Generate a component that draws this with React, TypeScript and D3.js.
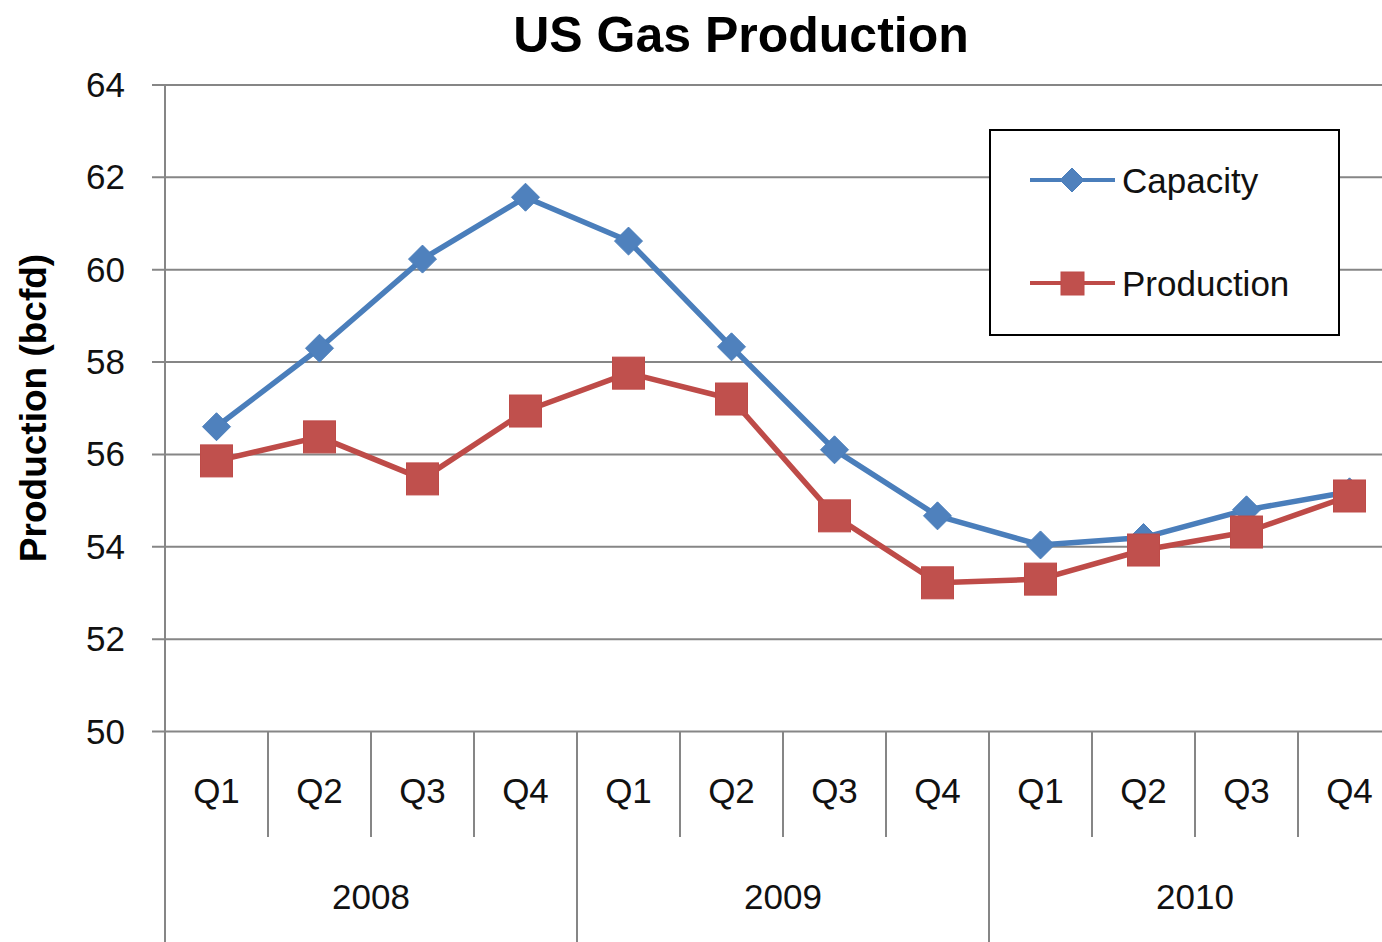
import React from "react";
import * as d3 from "d3";

const quarters = ["Q1", "Q2", "Q3", "Q4", "Q1", "Q2", "Q3", "Q4", "Q1", "Q2", "Q3", "Q4"];
const years = ["2008", "2009", "2010"];
const capacity = [56.6, 58.3, 60.23, 61.57, 60.62, 58.33, 56.1, 54.67, 54.04, 54.2, 54.8, 55.19];
const production = [55.86, 56.38, 55.47, 56.94, 57.76, 57.2, 54.67, 53.22, 53.3, 53.93, 54.32, 55.1];
const yTicks = [50, 52, 54, 56, 58, 60, 62, 64];

const W = 1382;
const H = 942;
const plotLeft = 165;
const plotRight = 165 + 12 * 103;
const plotTop = 85;
const plotBottom = 731.5;

const blueLine = "#4a7ebb";
const blueFill = "#4f81bd";
const redLine = "#be4b48";
const redFill = "#c0504d";
const grid = "#868686";
const font = "'Liberation Sans', Arial, sans-serif";

export default function App() {
  const idx = quarters.map((_, i) => String(i));
  const x = d3.scaleBand<string>().domain(idx).range([plotLeft, plotRight]);
  const y = d3.scaleLinear().domain([50, 64]).range([plotBottom, plotTop]);
  const cx = (i: number) => (x(String(i)) as number) + x.bandwidth() / 2;
  const line = d3
    .line<number>()
    .x((_, i) => cx(i))
    .y((d) => y(d));
  const bw = x.bandwidth();
  const diamond = (px: number, py: number, r: number) =>
    `M${px},${py - r}L${px + r},${py}L${px},${py + r}L${px - r},${py}Z`;

  return (
    <svg
      width={W}
      height={H}
      style={{ position: "absolute", left: 0, top: 0, background: "#fff", overflow: "hidden" }}
      fontFamily={font}
    >
      <rect x={0} y={0} width={W} height={H} fill="#fff" />
      {/* title */}
      <text x={741} y={52} textAnchor="middle" fontSize={50} fontWeight="bold" fill="#000">
        US Gas Production
      </text>
      {/* y axis title */}
      <text
        transform={`translate(46, ${408}) rotate(-90)`}
        textAnchor="middle"
        fontSize={37}
        fontWeight="bold"
        fill="#000"
      >
        Production (bcfd)
      </text>
      {/* gridlines and ticks */}
      {yTicks.map((t) => (
        <g key={t}>
          <line x1={152} x2={plotRight} y1={y(t)} y2={y(t)} stroke={grid} strokeWidth={2} />
          <text x={125} y={y(t) + 12} textAnchor="end" fontSize={35} fill="#111">
            {t}
          </text>
        </g>
      ))}
      {/* y axis line */}
      <line x1={plotLeft} x2={plotLeft} y1={plotTop} y2={H} stroke={grid} strokeWidth={2} />
      {/* category separators */}
      {d3.range(1, 13).map((k) => {
        const xx = plotLeft + k * bw;
        const isYear = k % 4 === 0;
        return (
          <line
            key={k}
            x1={xx}
            x2={xx}
            y1={plotBottom}
            y2={isYear ? H : 837}
            stroke={grid}
            strokeWidth={2}
          />
        );
      })}
      {quarters.map((q, i) => (
        <text key={i} x={cx(i)} y={803} textAnchor="middle" fontSize={35} fill="#111">
          {q}
        </text>
      ))}
      {years.map((yr, j) => (
        <text
          key={yr}
          x={plotLeft + (j * 4 + 2) * bw}
          y={909}
          textAnchor="middle"
          fontSize={35}
          fill="#111"
        >
          {yr}
        </text>
      ))}
      {/* series */}
      <path d={line(capacity) || ""} fill="none" stroke={blueLine} strokeWidth={5.5} strokeLinejoin="round" />
      {capacity.map((v, i) => (
        <path key={i} d={diamond(cx(i), y(v), 14)} fill={blueFill} stroke={blueLine} strokeWidth={1} />
      ))}
      <path d={line(production) || ""} fill="none" stroke={redLine} strokeWidth={5.5} strokeLinejoin="round" />
      {production.map((v, i) => (
        <rect
          key={i}
          x={cx(i) - 16}
          y={y(v) - 16}
          width={32}
          height={32}
          fill={redFill}
          stroke={redLine}
          strokeWidth={1}
        />
      ))}
      {/* legend */}
      <rect x={990} y={130} width={349} height={205} fill="#fff" stroke="#000" strokeWidth={2} />
      <line x1={1030} x2={1115} y1={180} y2={180} stroke={blueLine} strokeWidth={4} />
      <path d={diamond(1072, 180, 12)} fill={blueFill} stroke={blueLine} strokeWidth={1} />
      <text x={1122} y={193} fontSize={35} fill="#111">
        Capacity
      </text>
      <line x1={1030} x2={1115} y1={283} y2={283} stroke={redLine} strokeWidth={4} />
      <rect x={1061} y={272} width={23} height={23} fill={redFill} stroke={redLine} strokeWidth={1} />
      <text x={1122} y={296} fontSize={35} fill="#111">
        Production
      </text>
    </svg>
  );
}
